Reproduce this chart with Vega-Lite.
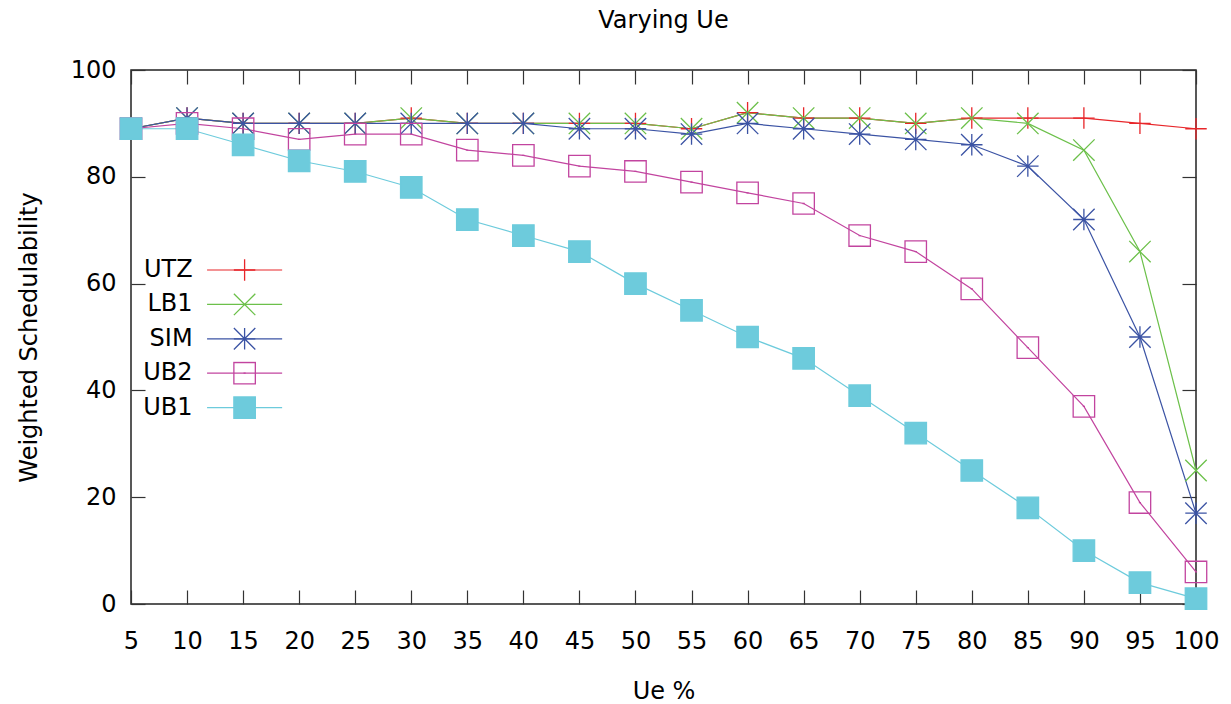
{
  "$schema": "https://vega.github.io/schema/vega-lite/v6.json",
  "width": 1065,
  "height": 534,
  "autosize": "none",
  "padding": {"left": 131, "top": 70, "right": 35, "bottom": 100},
  "title": {"text": "Varying Ue", "fontSize": 24, "fontWeight": "normal", "font": "DejaVu Sans", "color": "black", "offset": 25, "anchor": "middle"},
  "config": {
    "font": "DejaVu Sans",
    "view": {"stroke": "#222222", "strokeWidth": 1.5},
    "axis": {"grid": false, "domain": false, "labelFont": "DejaVu Sans", "labelFontSize": 24, "labelColor": "black", "titleFont": "DejaVu Sans", "titleFontSize": 24, "titleFontWeight": "normal", "titleColor": "black", "tickColor": "#333333", "tickWidth": 1.2, "tickSize": -14, "labelFlush": false, "labelOverlap": false},
    "legend": {"labelFont": "DejaVu Sans", "labelFontSize": 24, "labelColor": "black"}
  },
  "data": {"values": [
    {"ue": 5, "series": "UTZ", "value": 89}, {"ue": 10, "series": "UTZ", "value": 91}, {"ue": 15, "series": "UTZ", "value": 90}, {"ue": 20, "series": "UTZ", "value": 90}, {"ue": 25, "series": "UTZ", "value": 90}, {"ue": 30, "series": "UTZ", "value": 91}, {"ue": 35, "series": "UTZ", "value": 90}, {"ue": 40, "series": "UTZ", "value": 90}, {"ue": 45, "series": "UTZ", "value": 90}, {"ue": 50, "series": "UTZ", "value": 90}, {"ue": 55, "series": "UTZ", "value": 89}, {"ue": 60, "series": "UTZ", "value": 92}, {"ue": 65, "series": "UTZ", "value": 91}, {"ue": 70, "series": "UTZ", "value": 91}, {"ue": 75, "series": "UTZ", "value": 90}, {"ue": 80, "series": "UTZ", "value": 91}, {"ue": 85, "series": "UTZ", "value": 91}, {"ue": 90, "series": "UTZ", "value": 91}, {"ue": 95, "series": "UTZ", "value": 90}, {"ue": 100, "series": "UTZ", "value": 89},
    {"ue": 5, "series": "LB1", "value": 89}, {"ue": 10, "series": "LB1", "value": 91}, {"ue": 15, "series": "LB1", "value": 90}, {"ue": 20, "series": "LB1", "value": 90}, {"ue": 25, "series": "LB1", "value": 90}, {"ue": 30, "series": "LB1", "value": 91}, {"ue": 35, "series": "LB1", "value": 90}, {"ue": 40, "series": "LB1", "value": 90}, {"ue": 45, "series": "LB1", "value": 90}, {"ue": 50, "series": "LB1", "value": 90}, {"ue": 55, "series": "LB1", "value": 89}, {"ue": 60, "series": "LB1", "value": 92}, {"ue": 65, "series": "LB1", "value": 91}, {"ue": 70, "series": "LB1", "value": 91}, {"ue": 75, "series": "LB1", "value": 90}, {"ue": 80, "series": "LB1", "value": 91}, {"ue": 85, "series": "LB1", "value": 90}, {"ue": 90, "series": "LB1", "value": 85}, {"ue": 95, "series": "LB1", "value": 66}, {"ue": 100, "series": "LB1", "value": 25},
    {"ue": 5, "series": "SIM", "value": 89}, {"ue": 10, "series": "SIM", "value": 91}, {"ue": 15, "series": "SIM", "value": 90}, {"ue": 20, "series": "SIM", "value": 90}, {"ue": 25, "series": "SIM", "value": 90}, {"ue": 30, "series": "SIM", "value": 90}, {"ue": 35, "series": "SIM", "value": 90}, {"ue": 40, "series": "SIM", "value": 90}, {"ue": 45, "series": "SIM", "value": 89}, {"ue": 50, "series": "SIM", "value": 89}, {"ue": 55, "series": "SIM", "value": 88}, {"ue": 60, "series": "SIM", "value": 90}, {"ue": 65, "series": "SIM", "value": 89}, {"ue": 70, "series": "SIM", "value": 88}, {"ue": 75, "series": "SIM", "value": 87}, {"ue": 80, "series": "SIM", "value": 86}, {"ue": 85, "series": "SIM", "value": 82}, {"ue": 90, "series": "SIM", "value": 72}, {"ue": 95, "series": "SIM", "value": 50}, {"ue": 100, "series": "SIM", "value": 17},
    {"ue": 5, "series": "UB2", "value": 89}, {"ue": 10, "series": "UB2", "value": 90}, {"ue": 15, "series": "UB2", "value": 89}, {"ue": 20, "series": "UB2", "value": 87}, {"ue": 25, "series": "UB2", "value": 88}, {"ue": 30, "series": "UB2", "value": 88}, {"ue": 35, "series": "UB2", "value": 85}, {"ue": 40, "series": "UB2", "value": 84}, {"ue": 45, "series": "UB2", "value": 82}, {"ue": 50, "series": "UB2", "value": 81}, {"ue": 55, "series": "UB2", "value": 79}, {"ue": 60, "series": "UB2", "value": 77}, {"ue": 65, "series": "UB2", "value": 75}, {"ue": 70, "series": "UB2", "value": 69}, {"ue": 75, "series": "UB2", "value": 66}, {"ue": 80, "series": "UB2", "value": 59}, {"ue": 85, "series": "UB2", "value": 48}, {"ue": 90, "series": "UB2", "value": 37}, {"ue": 95, "series": "UB2", "value": 19}, {"ue": 100, "series": "UB2", "value": 6},
    {"ue": 5, "series": "UB1", "value": 89}, {"ue": 10, "series": "UB1", "value": 89}, {"ue": 15, "series": "UB1", "value": 86}, {"ue": 20, "series": "UB1", "value": 83}, {"ue": 25, "series": "UB1", "value": 81}, {"ue": 30, "series": "UB1", "value": 78}, {"ue": 35, "series": "UB1", "value": 72}, {"ue": 40, "series": "UB1", "value": 69}, {"ue": 45, "series": "UB1", "value": 66}, {"ue": 50, "series": "UB1", "value": 60}, {"ue": 55, "series": "UB1", "value": 55}, {"ue": 60, "series": "UB1", "value": 50}, {"ue": 65, "series": "UB1", "value": 46}, {"ue": 70, "series": "UB1", "value": 39}, {"ue": 75, "series": "UB1", "value": 32}, {"ue": 80, "series": "UB1", "value": 25}, {"ue": 85, "series": "UB1", "value": 18}, {"ue": 90, "series": "UB1", "value": 10}, {"ue": 95, "series": "UB1", "value": 4}, {"ue": 100, "series": "UB1", "value": 1}
  ]},
  "layer": [
    {
      "mark": {"type": "line", "strokeWidth": 1.2},
      "encoding": {
        "x": {"field": "ue", "type": "quantitative", "scale": {"domain": [5, 100], "nice": false, "zero": false},
              "axis": {"orient": "bottom", "title": "Ue %", "values": [5, 10, 15, 20, 25, 30, 35, 40, 45, 50, 55, 60, 65, 70, 75, 80, 85, 90, 95, 100], "labelPadding": 39, "titlePadding": 26}},
        "y": {"field": "value", "type": "quantitative", "scale": {"domain": [0, 100], "nice": false},
              "axis": {"orient": "left", "title": "Weighted Schedulability", "values": [0, 20, 40, 60, 80, 100], "labelPadding": 29, "titlePadding": 29}},
        "color": {"field": "series", "type": "nominal", "sort": ["UTZ", "LB1", "SIM", "UB2", "UB1"],
                  "scale": {"range": ["#e8262a", "#6cc04a", "#3b53a4", "#c2449f", "#6dcbdc"]},
                  "legend": {"orient": "none", "legendX": 101.6, "legendY": 188, "title": null, "padding": 0, "rowPadding": 10.4, "symbolType": "M-3.5,0H3.5", "symbolSize": 460, "symbolStrokeWidth": 1.2, "labelAlign": "right", "labelBaseline": "middle", "labelOffset": -64}}
      }
    },
    {
      "mark": {"type": "point", "size": 460, "strokeWidth": 1.3, "opacity": 1},
      "encoding": {
        "x": {"field": "ue", "type": "quantitative", "axis": {"orient": "top", "title": null, "labels": false, "values": [5, 10, 15, 20, 25, 30, 35, 40, 45, 50, 55, 60, 65, 70, 75, 80, 85, 90, 95, 100]}},
        "y": {"field": "value", "type": "quantitative", "axis": {"orient": "right", "title": null, "labels": false, "values": [0, 20, 40, 60, 80, 100]}},
        "shape": {"field": "series", "type": "nominal",
                  "scale": {"domain": ["UTZ", "LB1", "SIM", "UB2", "UB1"], "range": ["M-1,0H1M0,-1V1", "M-1,-1L1,1M-1,1L1,-1", "M-1,0H1M0,-1V1M-1,-1L1,1M-1,1L1,-1", "M-1,-1H1V1H-1ZM-0.1,0H0.1", "M-1,-1H1V1H-1Z"]},
                  "legend": {"orient": "none", "legendX": 101.6, "legendY": 188, "title": null, "padding": 0, "rowPadding": 10.4, "clipHeight": 24, "symbolSize": 460, "symbolStrokeWidth": 1.3, "labelOpacity": 0}},
        "stroke": {"field": "series", "type": "nominal",
                   "scale": {"domain": ["UTZ", "LB1", "SIM", "UB2", "UB1"], "range": ["#e8262a", "#6cc04a", "#3b53a4", "#c2449f", "#6dcbdc"]},
                   "legend": {"orient": "none", "legendX": 101.6, "legendY": 188, "title": null, "padding": 0, "rowPadding": 10.4, "clipHeight": 24, "symbolSize": 460, "symbolStrokeWidth": 1.3, "labelOpacity": 0}},
        "fill": {"field": "series", "type": "nominal",
                 "scale": {"domain": ["UTZ", "LB1", "SIM", "UB2", "UB1"], "range": ["transparent", "transparent", "transparent", "transparent", "#6dcbdc"]},
                 "legend": {"orient": "none", "legendX": 101.6, "legendY": 188, "title": null, "padding": 0, "rowPadding": 10.4, "clipHeight": 24, "symbolSize": 460, "symbolStrokeWidth": 1.3, "labelOpacity": 0}}
      }
    }
  ],
  "resolve": {"axis": {"x": "independent", "y": "independent"}}
}
